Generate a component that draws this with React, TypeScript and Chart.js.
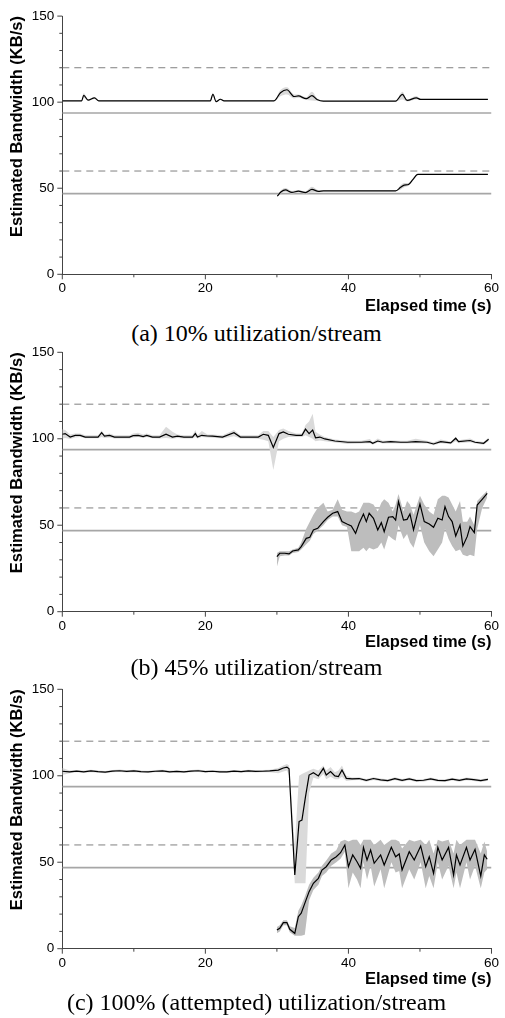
import React, { useEffect, useRef } from 'react';
import { Chart, registerables } from 'chart.js';

Chart.register(...registerables);

// ---------- axis / reference data ----------
const X_LABEL_TICKS = [0, 20, 40, 60];
const X_ALL_TICKS = [0, 10, 20, 30, 40, 50, 60];
const Y_LABEL_TICKS = [0, 50, 100, 150];
const Y_ALL_TICKS = [0, 10, 20, 30, 40, 50, 60, 70, 80, 90, 100, 110, 120, 130, 140, 150];
const REF_DASHED = [120, 60];
const REF_SOLID = [93.75, 46.875];
const REF_SPAN = [0, 60];

// ---------- panel (a) ----------
const A_UP_T = [0, 2.7, 3.0, 3.6, 4.5, 5.1, 20.7, 21.05, 21.5, 22.1, 22.6, 29.6, 30.5, 31.4, 32.4, 33.0, 34.1, 34.9, 35.6, 36.5, 46.6, 47.55, 48.2, 49.5, 50.1, 59.5];
const A_UP_V = [100.8, 100.8, 104, 101.2, 102.5, 100.8, 100.8, 104.6, 100.3, 101.7, 100.8, 100.8, 105.5, 107.2, 103.3, 103.6, 102, 103.8, 101.6, 100.6, 100.6, 104.5, 101, 102.5, 101.6, 101.6];
const A_UP_LO = [100.6, 100.6, 102.5, 100.8, 101.8, 100.6, 100.6, 103.5, 100, 101.2, 100.6, 100.6, 103.5, 104.5, 102.2, 102.6, 101.2, 101, 100.8, 100.4, 100.4, 101.5, 100.4, 101.6, 101.4, 101.4];
const A_UP_HI = [101, 101, 105.2, 101.6, 103, 101, 101, 105.4, 100.8, 102.2, 101, 101, 107, 108.6, 104.5, 104.4, 102.8, 106, 102.4, 100.8, 100.8, 106, 101.6, 103.6, 101.8, 101.8];

const A_LO_T = [30.05, 30.6, 31.2, 32.1, 33.0, 34.0, 34.9, 35.8, 36.5, 46.6, 47.3, 47.8, 48.4, 49.0, 49.7, 59.5];
const A_LO_V = [45.4, 48, 49, 47.6, 48.3, 47.5, 49.3, 48.2, 48.5, 48.5, 50.5, 51.8, 52.2, 55, 58, 58];
const A_LO_LO = [45, 47, 48, 46.8, 47.6, 46.8, 47.5, 47.6, 48.3, 48.3, 49.3, 50.6, 51.4, 54.3, 57.8, 57.8];
const A_LO_HI = [45.8, 49, 50.2, 48.4, 49, 48.2, 50.8, 48.8, 48.7, 48.7, 51.7, 53, 53, 55.7, 58.2, 58.2];

// ---------- panel (b) ----------
const B_UP_T = [0, 0.4, 1.1, 1.8, 2.5, 3.2, 5.0, 5.5, 5.9, 6.6, 7.3, 9.4, 9.9, 10.6, 11.3, 11.8, 12.6, 13.6, 14.5, 15.4, 16.1, 17.0, 18.2, 18.6, 18.9, 19.5, 20.3, 21.0, 22.4, 24.0, 24.9, 26.0, 27.4, 28.1, 28.8, 29.5, 30.3, 30.9, 31.6, 32.7, 33.5, 34.0, 34.5, 35.0, 35.4, 36.0, 36.7, 38.1, 39.9, 41.8, 43.0, 43.4, 44.1, 44.8, 45.9, 47.3, 48.2, 49.4, 51.0, 51.9, 52.9, 54.3, 55.0, 55.4, 57.0, 57.7, 58.9, 59.6];
const B_UP_V = [102.6, 103, 101, 102, 102, 101, 101, 103.5, 101.5, 101.9, 101, 101, 101.8, 102, 101.3, 102, 101, 101, 102.6, 101, 101.5, 101, 101, 103, 101, 102, 101.6, 101.5, 101, 103.5, 101, 101, 101, 102.6, 102, 95, 103, 104, 102.6, 102, 102, 105.6, 103, 105, 100.6, 101, 99.9, 98.7, 98, 98, 98.3, 97.4, 98.7, 98, 98.3, 98, 98, 98.3, 98, 97, 98.3, 97.6, 100.3, 98.3, 99, 98, 97.4, 99.7];
const B_UP_LO = [100, 100.5, 99.8, 100.8, 101, 100.3, 100.3, 101, 100.5, 100.8, 100.2, 100.2, 100.8, 101, 100.5, 101, 100.3, 100.2, 100.5, 100, 100.5, 100.2, 100.2, 101, 100.2, 101, 100.8, 100.6, 100.2, 101.5, 100.2, 100.2, 100, 99.5, 98.5, 82, 98.5, 100, 101, 101, 101, 102, 101, 100, 98.5, 99, 98.5, 97.8, 97, 97.2, 97.4, 96.6, 97.8, 97.2, 97.4, 97.2, 97.2, 97.4, 97.2, 96.2, 97.4, 96.8, 98.5, 97.4, 98, 97.2, 96.6, 98.5];
const B_UP_HI = [105.5, 105, 102.5, 103, 103, 102, 102, 104.8, 102.5, 103, 102, 102, 103, 103.5, 102.5, 103, 102, 102, 107, 104, 102.5, 102, 102, 105, 102, 104.5, 102.5, 102.5, 102, 105, 102, 102, 102, 104.5, 104.5, 101, 105, 106, 104.5, 103, 103, 108, 110, 114.5, 104, 102.5, 101, 99.6, 98.8, 98.8, 99.8, 98.2, 100.2, 98.8, 99.2, 98.8, 98.8, 100, 98.8, 98, 99.6, 98.4, 101, 99.2, 100.2, 98.8, 98.2, 100.8];

const B_LO_T = [30.0, 30.4, 31.1, 31.7, 32.2, 33.0, 33.4, 34.1, 34.6, 35.1, 35.7, 36.5, 37.1, 37.8, 38.5, 39.1, 39.8, 40.4, 41.0, 41.5, 42.1, 42.5, 42.9, 43.5, 44.1, 44.6, 45.0, 45.6, 46.2, 46.6, 47.0, 47.7, 48.2, 48.6, 49.1, 50.0, 50.6, 51.3, 51.9, 52.5, 53.1, 53.5, 54.0, 54.5, 55.0, 55.6, 56.0, 56.6, 57.0, 57.6, 58.0, 58.7, 59.4];
const B_LO_V = [31.8, 33.8, 33.8, 33.4, 35.1, 35.7, 37.6, 42.4, 43, 47.3, 48.2, 52.1, 54.6, 56.9, 57.9, 52.1, 50.7, 49.6, 45.3, 51.1, 56.5, 52.1, 56.9, 54, 47.3, 51.5, 46.3, 54.6, 55, 53, 63.6, 53, 53.4, 56.5, 47.3, 62.3, 52.1, 50.7, 48.8, 54, 53, 60.7, 55, 52.1, 43.8, 50.1, 38, 43.4, 49.2, 45.7, 61.7, 65, 68.4];
const B_LO_LO = [26, 32, 32.5, 32.5, 34, 34.5, 36, 39, 41, 45, 47, 50, 53, 55, 55, 50, 49, 35, 35, 35, 37, 35, 37, 36, 37, 40, 36, 44, 42, 41, 50, 42, 45, 40, 37, 50, 40, 35, 32, 36, 40, 48, 42, 38, 35, 36, 33, 32, 33, 32, 48, 60, 66];
const B_LO_HI = [34, 35, 35, 35, 36, 37, 40, 48, 52, 56, 60, 63, 58, 59, 65, 59, 58, 58, 57, 58, 63, 63, 63, 62, 58, 63, 65, 63, 58, 62, 68, 58, 64, 62, 56, 67, 62, 58, 56, 65, 67, 67, 66, 62, 58, 64, 52, 52, 55, 50, 64, 67, 70];

// ---------- panel (c) ----------
const C_UP_T = [0, 1, 2, 3, 4, 5, 6, 7, 8, 9, 10, 11, 12, 13, 14, 15, 16, 17, 18, 19, 20, 21, 22, 23, 24, 25, 26, 27, 28, 29, 30.2, 30.9, 31.4, 31.7, 32.5, 33.1, 33.5, 34.0, 34.5, 35.1, 35.8, 36.5, 36.9, 37.5, 38.1, 38.6, 39.1, 39.7, 40.5, 41.5, 42.5, 43.5, 44.5, 45.5, 46.5, 47.5, 48.5, 49.5, 50.5, 51.5, 52.5, 53.5, 54.5, 55.5, 56.5, 57.5, 58.5, 59.5];
const C_UP_V = [102.6, 102.2, 102.7, 102.3, 102.8, 102.4, 102.1, 102.7, 102.9, 102.5, 102.8, 102.4, 102.2, 102.6, 102.8, 102.3, 102.5, 102.2, 102.7, 102.9, 102.4, 102.6, 102.3, 102.2, 102.7, 102.4, 102.8, 102.5, 102.6, 102.8, 103.3, 104.5, 105, 104, 42.6, 73.5, 74.4, 87.9, 100.4, 101.8, 99.9, 104.3, 100.4, 102.4, 99.9, 99.5, 103.3, 98.5, 98.2, 98.4, 97.4, 98.4, 97.6, 97.2, 98.3, 97.4, 98.2, 97.2, 97.4, 98.2, 97.3, 97.2, 98.0, 97.3, 98.2, 97.8, 97.2, 97.9];
const C_UP_LO = [100.5, 101.5, 102, 101.7, 102.1, 101.8, 101.5, 102, 102.2, 101.9, 102.1, 101.8, 101.6, 102, 102.1, 101.7, 101.9, 101.6, 102, 102.2, 101.8, 102, 101.7, 101.6, 102, 101.8, 102.1, 101.9, 102, 102.1, 101.5, 102.5, 103, 100, 37.8, 37.8, 37.8, 37.8, 90, 99, 98, 101, 98, 99.5, 98, 98, 99.5, 97, 97.4, 97.6, 96.6, 97.6, 96.8, 96.4, 97.5, 96.6, 97.4, 96.4, 96.6, 97.4, 96.5, 96.4, 97.2, 96.5, 97.4, 97, 96.4, 97.1];
const C_UP_HI = [104.5, 103, 103.4, 103, 103.5, 103.1, 102.8, 103.4, 103.6, 103.2, 103.5, 103.1, 102.9, 103.3, 103.5, 103, 103.2, 102.9, 103.4, 103.6, 103.1, 103.3, 103, 102.9, 103.4, 103.1, 103.5, 103.2, 103.3, 103.5, 104.5, 106, 106.8, 106, 60, 100, 101, 102, 103, 104, 103, 106, 103, 105, 102, 103, 106, 100, 99, 99.2, 98.2, 99.2, 98.4, 98, 99.1, 98.2, 99, 98, 98.2, 99, 98.1, 98, 98.8, 98.1, 99, 98.6, 98, 98.7];

const C_LO_T = [30.0, 30.4, 30.9, 31.4, 31.8, 32.5, 33.0, 33.4, 33.9, 34.5, 35.1, 35.8, 36.3, 36.9, 37.6, 38.3, 38.9, 39.5, 40.0, 40.6, 41.2, 41.7, 42.1, 42.6, 43.1, 43.6, 44.5, 45.0, 46.0, 46.6, 47.1, 47.5, 48.5, 49.2, 50.1, 50.8, 51.3, 51.9, 52.5, 53.1, 54.0, 54.7, 55.1, 55.6, 56.5, 57.0, 57.7, 58.5, 59.0, 59.4];
const C_LO_V = [10.8, 11.8, 15.1, 15.1, 11.2, 8.9, 18.5, 20.5, 26.2, 33, 37.8, 40.7, 45.5, 47.4, 51.3, 53.2, 55.5, 60, 47.4, 54.2, 50.3, 46.5, 58.6, 51.3, 57.1, 49.4, 54.2, 48.4, 58.6, 53.2, 54.8, 45.5, 56.1, 51.3, 59.4, 47.4, 53.2, 43.6, 58.6, 51.3, 58.6, 42.6, 54.2, 48.4, 58.6, 51.3, 57.5, 42, 54.2, 51.7];
const C_LO_LO = [9, 10, 13.5, 13.5, 9.5, 7.5, 7.5, 7.5, 8, 28, 34, 37, 42, 44, 48, 50, 52, 56, 35, 44, 40, 35, 50, 40, 48, 36, 46, 35, 50, 44, 45, 35, 46, 40, 50, 35, 42, 35, 50, 40, 48, 35, 44, 35, 50, 40, 48, 35, 44, 46];
const C_LO_HI = [12.5, 13.5, 16.5, 16.5, 13, 12, 22, 25, 30, 37, 41, 44, 48, 51, 55, 57, 62, 63, 62, 63, 63, 60, 63, 63, 63, 60, 63, 60, 63, 63, 62, 58, 63, 62, 63, 60, 63, 55, 63, 62, 63, 55, 63, 60, 63, 63, 63, 55, 62, 56];

// ---------- layout ----------
const CANVAS_W = 505;
const CANVAS_H = 320;
const SANS = '"Liberation Sans", Arial, Helvetica, sans-serif';
const SERIF = '"Liberation Serif", "Times New Roman", serif';

type Series = { t: number[]; v: number[]; lo: number[]; hi: number[] };
type PanelCfg = {
  top: number;
  plotTop: number;
  plotBottom: number;
  up: Series;
  low: Series;
  smooth: boolean;
  upBand: string;
  lowBand: string;
  caption: string;
  captionTop: number;
};

const PANELS: PanelCfg[] = [
  {
    top: 0, plotTop: 15.7, plotBottom: 274.3,
    up: { t: A_UP_T, v: A_UP_V, lo: A_UP_LO, hi: A_UP_HI },
    low: { t: A_LO_T, v: A_LO_V, lo: A_LO_LO, hi: A_LO_HI },
    smooth: true, upBand: '#d9d9d9', lowBand: '#d4d4d4',
    caption: '(a) 10% utilization/stream', captionTop: 321,
  },
  {
    top: 336, plotTop: 16.3, plotBottom: 275.7,
    up: { t: B_UP_T, v: B_UP_V, lo: B_UP_LO, hi: B_UP_HI },
    low: { t: B_LO_T, v: B_LO_V, lo: B_LO_LO, hi: B_LO_HI },
    smooth: false, upBand: '#dadada', lowBand: '#bdbdbd',
    caption: '(b) 45% utilization/stream', captionTop: 655,
  },
  {
    top: 673, plotTop: 16.3, plotBottom: 275.7,
    up: { t: C_UP_T, v: C_UP_V, lo: C_UP_LO, hi: C_UP_HI },
    low: { t: C_LO_T, v: C_LO_V, lo: C_LO_LO, hi: C_LO_HI },
    smooth: false, upBand: '#dadada', lowBand: '#bdbdbd',
    caption: '(c) 100% (attempted) utilization/stream', captionTop: 990,
  },
];

const pts = (t: number[], v: number[]) => t.map((x, i) => ({ x, y: v[i] }));
const refPts = (y: number) => REF_SPAN.map((x) => ({ x, y }));

const tickPlugin = {
  id: 'axisTicks',
  afterDraw(chart: any) {
    const { ctx, chartArea } = chart;
    const xs = chart.scales.x;
    const ys = chart.scales.y;
    ctx.save();
    ctx.strokeStyle = '#444';
    ctx.lineWidth = 1;
    ctx.beginPath();
    Y_ALL_TICKS.forEach((v) => {
      const py = ys.getPixelForValue(v);
      const len = Y_LABEL_TICKS.includes(v) ? 5 : 3;
      ctx.moveTo(chartArea.left - len, py);
      ctx.lineTo(chartArea.left, py);
    });
    X_ALL_TICKS.forEach((t) => {
      const px = xs.getPixelForValue(t);
      const len = X_LABEL_TICKS.includes(t) ? 5 : 3;
      ctx.moveTo(px, chartArea.bottom);
      ctx.lineTo(px, chartArea.bottom + len);
    });
    ctx.stroke();
    ctx.restore();
  },
};

function Panel({ cfg }: { cfg: PanelCfg }) {
  const ref = useRef<HTMLCanvasElement>(null);
  useEffect(() => {
    if (!ref.current) return;
    const tension = cfg.smooth ? 0.4 : 0;
    const mode = cfg.smooth ? 'monotone' : 'default';
    const base = { pointRadius: 0, pointHoverRadius: 0, tension, cubicInterpolationMode: mode as any };
    const datasets: any[] = [
      { ...base, data: refPts(REF_DASHED[0]), borderColor: '#808080', borderWidth: 1, borderDash: [7, 5], fill: false, order: 3, tension: 0 },
      { ...base, data: refPts(REF_DASHED[1]), borderColor: '#808080', borderWidth: 1, borderDash: [7, 5], fill: false, order: 3, tension: 0 },
      { ...base, data: refPts(REF_SOLID[0]), borderColor: '#a6a6a6', borderWidth: 1.6, fill: false, order: 3, tension: 0 },
      { ...base, data: refPts(REF_SOLID[1]), borderColor: '#a6a6a6', borderWidth: 1.6, fill: false, order: 3, tension: 0 },
      { ...base, data: pts(cfg.up.t, cfg.up.lo), borderWidth: 0, borderColor: 'rgba(0,0,0,0)', fill: false, order: 2 },
      { ...base, data: pts(cfg.up.t, cfg.up.hi), borderWidth: 0, borderColor: 'rgba(0,0,0,0)', backgroundColor: cfg.upBand, fill: '-1', order: 2 },
      { ...base, data: pts(cfg.low.t, cfg.low.lo), borderWidth: 0, borderColor: 'rgba(0,0,0,0)', fill: false, order: 1 },
      { ...base, data: pts(cfg.low.t, cfg.low.hi), borderWidth: 0, borderColor: 'rgba(0,0,0,0)', backgroundColor: cfg.lowBand, fill: '-1', order: 1 },
      { ...base, data: pts(cfg.up.t, cfg.up.v), borderColor: '#000', borderWidth: 1.2, fill: false, order: 0 },
      { ...base, data: pts(cfg.low.t, cfg.low.v), borderColor: '#000', borderWidth: 1.2, fill: false, order: 0 },
    ];
    const chart = new Chart(ref.current, {
      type: 'line',
      data: { datasets },
      plugins: [tickPlugin],
      options: {
        responsive: false,
        animation: false,
        devicePixelRatio: 1,
        parsing: false as any,
        normalized: true,
        layout: { padding: { top: cfg.plotTop, left: 0, right: CANVAS_W - 494.5, bottom: 0 } },
        plugins: { legend: { display: false }, tooltip: { enabled: false } },
        events: [],
        scales: {
          x: {
            type: 'linear',
            min: 0,
            max: 60,
            afterFit: (s: any) => { s.height = CANVAS_H - cfg.plotBottom; },
            afterBuildTicks: (s: any) => { s.ticks = X_LABEL_TICKS.map((value) => ({ value })); },
            ticks: {
              font: { family: SANS, size: 13.5 },
              color: '#000',
              padding: 6,
              maxRotation: 0,
              autoSkip: false,
            },
            grid: { display: false, drawTicks: false, tickLength: 0 },
            border: { display: true, color: '#444', width: 1 },
            title: {
              display: true,
              text: 'Elapsed time (s)',
              align: 'end',
              color: '#000',
              font: { family: SANS, size: 16.5, weight: 'bold', lineHeight: 1.2 },
              padding: { top: 0, bottom: 4 },
            },
          },
          y: {
            type: 'linear',
            min: 0,
            max: 150,
            afterFit: (s: any) => { s.width = 62.3; },
            afterBuildTicks: (s: any) => { s.ticks = Y_LABEL_TICKS.map((value) => ({ value })); },
            ticks: {
              font: { family: SANS, size: 13.5 },
              color: '#000',
              padding: 8,
              autoSkip: false,
            },
            grid: { display: false, drawTicks: false, tickLength: 0 },
            border: { display: true, color: '#444', width: 1 },
            title: {
              display: true,
              text: 'Estimated Bandwidth (KB/s)',
              align: 'end',
              color: '#000',
              font: { family: SANS, size: 16.5, weight: 'bold', lineHeight: 1.2 },
              padding: { top: 7.5, bottom: 0 },
            },
          },
        },
      } as any,
    });
    return () => chart.destroy();
  }, [cfg]);
  return (
    <canvas
      ref={ref}
      width={CANVAS_W}
      height={CANVAS_H}
      style={{ position: 'absolute', left: 0, top: cfg.top, width: CANVAS_W, height: CANVAS_H }}
    />
  );
}

export default function App() {
  return (
    <div style={{ position: 'absolute', left: 0, top: 0, width: 505, height: 1018, background: '#fff', overflow: 'hidden' }}>
      {PANELS.map((cfg, i) => (
        <React.Fragment key={i}>
          <Panel cfg={cfg} />
          <div
            style={{
              position: 'absolute',
              left: 256.5,
              top: cfg.captionTop,
              transform: 'translateX(-50%)',
              whiteSpace: 'nowrap',
              fontFamily: SERIF,
              fontSize: 24,
              lineHeight: '24px',
              color: '#000',
            }}
          >
            {cfg.caption}
          </div>
        </React.Fragment>
      ))}
    </div>
  );
}
